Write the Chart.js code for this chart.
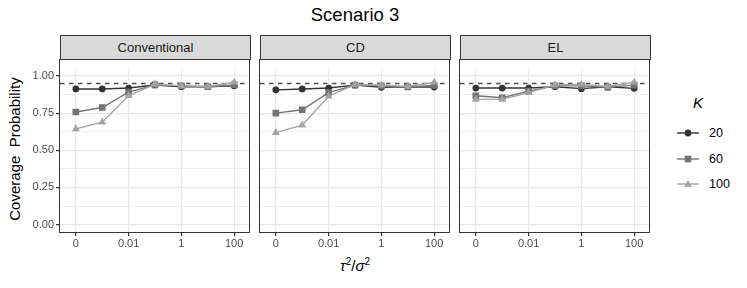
<!DOCTYPE html>
<html>
<head>
<meta charset="utf-8">
<script src="https://cdn.jsdelivr.net/npm/chart.js@4.4.0/dist/chart.umd.min.js"></script>
<style>
  body { margin: 0; background: #fff; font-family: "Liberation Sans", Arial, sans-serif; }
  #wrap { position: relative; width: 747px; height: 288px; overflow: hidden; }
  .abs { position: absolute; }
  canvas { position: absolute; }
  .strip { position: absolute; top: 35px; height: 25px; width: 191px; background: #d9d9d9; border: 1px solid #333;
           box-sizing: border-box; text-align: center; line-height: 23px; font-size: 13px; color: #1a1a1a; }
  .frame { position: absolute; top: 59px; height: 174px; width: 191px; border: 1px solid #333; box-sizing: border-box; pointer-events: none; }
  .lg-row { position: absolute; left: 677px; height: 16px; font-size: 12.5px; color: #000; }
  .lg-row span { position: absolute; left: 32px; top: 0; line-height: 16px; }
</style>
</head>
<body>
<div id="wrap">
  <div class="abs" style="left:60px;width:590px;top:4px;text-align:center;font-size:18.5px;color:#000">Scenario 3</div>
  <div class="abs" style="left:-85px;top:139px;width:200px;height:20px;line-height:20px;text-align:center;font-size:15px;white-space:pre;transform:rotate(-90deg)">Coverage  Probability</div>
  <div class="abs" style="left:255px;top:256px;width:200px;text-align:center;font-size:15px"><i>τ</i><sup style="font-size:10px">2</sup>/<i>σ</i><sup style="font-size:10px">2</sup></div>
  <div class="abs" style="left:693px;top:94px;font-size:15px;font-style:italic">K</div>
  <div id="legend"></div>
</div>
<script>
// x categories (tau^2 / sigma^2) and the ones that get a tick label
const tauRatio = ['0', '0.001', '0.01', '0.1', '1', '10', '100'];
const labeledTau = ['0', '0.01', '1', '100'];
const yTicks = [0, 0.125, 0.25, 0.375, 0.5, 0.625, 0.75, 0.875, 1];
const nominal = 0.95;

const methods = ['Conventional', 'CD', 'EL'];
const kLabels = ['20', '60', '100'];

// coverage probability, one array per method and K
const convK20  = [0.913, 0.913, 0.919, 0.940, 0.928, 0.928, 0.934];
const convK60  = [0.758, 0.788, 0.892, 0.940, 0.934, 0.928, 0.940];
const convK100 = [0.644, 0.689, 0.867, 0.945, 0.934, 0.930, 0.958];

const cdK20  = [0.907, 0.913, 0.919, 0.939, 0.924, 0.928, 0.926];
const cdK60  = [0.750, 0.773, 0.888, 0.939, 0.934, 0.926, 0.936];
const cdK100 = [0.619, 0.669, 0.864, 0.943, 0.939, 0.930, 0.958];

const elK20  = [0.919, 0.919, 0.919, 0.928, 0.915, 0.928, 0.917];
const elK60  = [0.867, 0.854, 0.898, 0.934, 0.934, 0.924, 0.939];
const elK100 = [0.843, 0.843, 0.888, 0.940, 0.943, 0.930, 0.958];

const seriesByMethod = [
  [convK20, convK60, convK100],
  [cdK20, cdK60, cdK100],
  [elK20, elK60, elK100]
];

const kColors = ['#333333', '#747474', '#a3a3a3'];
const kShapes = ['circle', 'rect', 'triangle'];
const kRadius = [3.4, 4.7, 4.6];

const panelLeft = [60, 260, 460];
const FONT = { family: '"Liberation Sans", Arial, sans-serif', size: 11 };

const isMajor = (v) => Math.abs(v * 4 - Math.round(v * 4)) < 1e-9;

function makePanel(i) {
  const wrap = document.getElementById('wrap');
  const showY = i === 0;
  const yw = showY ? 60 : 0;

  const strip = document.createElement('div');
  strip.className = 'strip';
  strip.style.left = panelLeft[i] + 'px';
  strip.textContent = methods[i];
  wrap.appendChild(strip);

  const canvas = document.createElement('canvas');
  canvas.width = 190 + yw;
  canvas.height = 200;
  canvas.style.left = (panelLeft[i] - yw) + 'px';
  canvas.style.top = '60px';
  wrap.appendChild(canvas);

  const datasets = seriesByMethod[i].map((vals, k) => ({
    label: kLabels[k],
    data: vals.map((v, j) => ({ x: j, y: v })),
    borderColor: kColors[k],
    backgroundColor: kColors[k],
    borderWidth: 1.4,
    pointStyle: kShapes[k],
    pointRadius: kRadius[k],
    pointBorderWidth: 0,
    tension: 0,
    order: 3 - k
  }));
  datasets.push({
    label: 'nominal',
    data: [{ x: -0.6, y: nominal }, { x: 6.6, y: nominal }],
    borderColor: '#4d4d4d',
    borderWidth: 1.4,
    borderDash: [4.5, 4.5],
    pointRadius: 0,
    order: 10
  });

  new Chart(canvas, {
    type: 'line',
    data: { datasets },
    options: {
      responsive: false,
      animation: false,
      devicePixelRatio: 1,
      layout: { padding: 0, autoPadding: false },
      plugins: { legend: { display: false }, tooltip: { enabled: false } },
      scales: {
        x: {
          type: 'linear',
          min: -0.6,
          max: 6.6,
          afterBuildTicks: (ax) => {
            ax.ticks = tauRatio.map((t, j) => j).filter(j => labeledTau.includes(tauRatio[j])).map(j => ({ value: j }));
          },
          afterFit: (ax) => { ax.height = 28; },
          border: { display: false },
          grid: { color: '#e8e8e8', lineWidth: 1.2, tickLength: 4, tickColor: '#333333' },
          ticks: { color: '#4d4d4d', font: FONT, padding: 1, maxRotation: 0, autoSkip: false,
                   callback: (v) => tauRatio[v] }
        },
        y: {
          min: -0.05,
          max: 1.05,
          afterBuildTicks: (ax) => { ax.ticks = yTicks.map(v => ({ value: v })); },
          afterFit: (ax) => { ax.width = yw; },
          border: { display: false },
          grid: {
            color: '#e8e8e8',
            lineWidth: (ctx) => (ctx.tick && isMajor(ctx.tick.value) ? 1.2 : 0.7),
            tickLength: showY ? 4 : 0,
            tickColor: (ctx) => (showY && ctx.tick && isMajor(ctx.tick.value) ? '#333333' : 'rgba(0,0,0,0)')
          },
          ticks: { color: '#4d4d4d', font: FONT, padding: 2, autoSkip: false,
                   callback: (v) => (showY && isMajor(v) ? v.toFixed(2) : '') }
        }
      }
    }
  });

  const frame = document.createElement('div');
  frame.className = 'frame';
  frame.style.left = (panelLeft[i] - 1) + 'px';
  wrap.appendChild(frame);
}

methods.forEach((m, i) => makePanel(i));

// legend
const shapeSvg = (k) => {
  const c = kColors[k];
  if (k === 0) return `<circle cx="11" cy="8" r="3.4" fill="${c}"/>`;
  if (k === 1) return `<rect x="7.7" y="4.7" width="6.6" height="6.6" fill="${c}"/>`;
  return `<polygon points="11,4 15,11 7,11" fill="${c}"/>`;
};
const legend = document.getElementById('legend');
kLabels.forEach((lab, k) => {
  const row = document.createElement('div');
  row.className = 'lg-row';
  row.style.top = (125 + k * 25.5) + 'px';
  row.innerHTML = `<svg width="22" height="16" style="position:absolute;left:0;top:0">
      <line x1="0" y1="8" x2="22" y2="8" stroke="${kColors[k]}" stroke-width="1.4"/>${shapeSvg(k)}</svg>
      <span>${lab}</span>`;
  legend.appendChild(row);
});
</script>
</body>
</html>
